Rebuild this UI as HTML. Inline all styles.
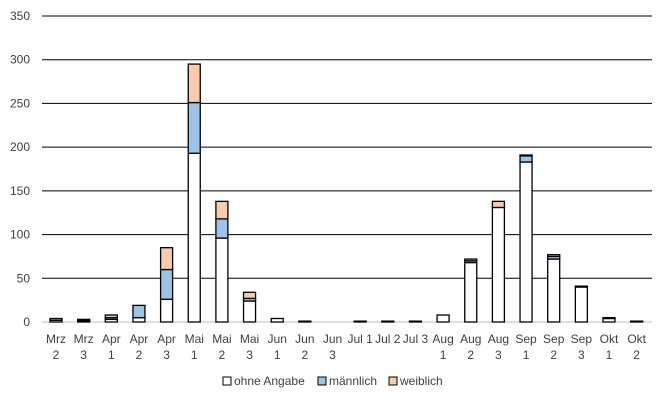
<!DOCTYPE html>
<html><head><meta charset="utf-8"><style>
body{margin:0;background:#fff;font-family:"Liberation Sans",sans-serif;}
svg text{font-family:"Liberation Sans",sans-serif;font-size:12px;fill:#404040;}
</style></head><body>
<svg id="c" width="667" height="406"></svg>
<script>
const categories=[["Mrz","2"],["Mrz","3"],["Apr","1"],["Apr","2"],["Apr","3"],["Mai","1"],["Mai","2"],["Mai","3"],["Jun","1"],["Jun","2"],["Jun","3"],["Jul 1",""],["Jul 2",""],["Jul 3",""],["Aug","1"],["Aug","2"],["Aug","3"],["Sep","1"],["Sep","2"],["Sep","3"],["Okt","1"],["Okt","2"]];
const ohne=[2,1,3,5,26,193,96,24,4,1,0,1,1,1,8,68,131,183,72,40,4,1];
const maennlich=[0,1,2,14,34,58,22,3,0,0,0,0,0,0,0,2,0,7,3,1,1,0];
const weiblich=[2,1,3,0,25,44,20,7,0,0,0,0,0,0,0,2,7,1,2,0,0,0];
const yTicks=[0,50,100,150,200,250,300,350];
const svg=document.getElementById('c');const NS='http://www.w3.org/2000/svg';
const y0=322,y1=16,ymax=350,x0=42,x1=652,pitch=27.65,first=56,bw=12;
const Y=v=>y0-(v/ymax)*(y0-y1);const X=i=>first+i*pitch;
function mk(t,a){const e=document.createElementNS(NS,t);for(const k in a)e.setAttribute(k,a[k]);svg.appendChild(e);return e;}
yTicks.forEach(t=>{
 const l=mk('line',{x1:x0,x2:x1,y1:Y(t),y2:Y(t),stroke:t==0?'#bfbfbf':'#000','stroke-width':1});
 
 
 const tx=mk('text',{x:30,y:Y(t)+4,'text-anchor':'end'});tx.textContent=t;
 
 
});
const series=[[ohne,'#ffffff','ohne'],[maennlich,'#9dc3e6','maennlich'],[weiblich,'#f8cbad','weiblich']];
categories.forEach((c,i)=>{
 let acc=0;
 series.forEach(([arr,col,nm])=>{
  const v=arr[i];if(v<=0)return;
  const r=mk('rect',{x:X(i)-bw/2,y:Y(acc+v),width:bw,height:Y(acc)-Y(acc+v),fill:col,stroke:'#000','stroke-width':1.3});
  
  
  acc+=v;
 });
 const t1=mk('text',{x:X(i),y:343,'text-anchor':'middle'});t1.textContent=c[0];
 
 
 if(c[1]){const t2=mk('text',{x:X(i),y:359,'text-anchor':'middle'});t2.textContent=c[1];
 
 }
});
const leg=[['ohne Angabe','#ffffff',223],['männlich','#9dc3e6',318],['weiblich','#f8cbad',389]];
leg.forEach(([n,col,x])=>{
 const r=mk('rect',{x:x,y:377,width:8,height:8,fill:col,stroke:'#000','stroke-width':1});
 
 
 const t=mk('text',{x:x+11,y:385});t.textContent=n;
 
 
});
</script>
</body></html>
